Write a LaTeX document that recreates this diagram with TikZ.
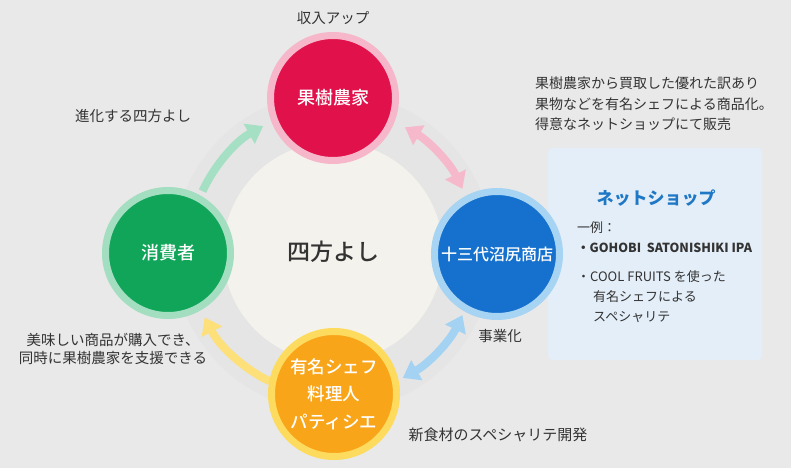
\documentclass[tikz,border=0pt]{standalone}
\usepackage{fontspec}
\setmainfont{Noto Sans CJK JP}
\newfontfamily\medfont{Noto Sans CJK JP Medium}
\usetikzlibrary{arrows.meta}
\definecolor{bg}{HTML}{E9E9E9}
\definecolor{band}{HTML}{E5E5E5}
\definecolor{cream}{HTML}{F4F2EC}
\definecolor{txt}{HTML}{333333}
\definecolor{cred}{HTML}{E1124B}
\definecolor{rpink}{HTML}{F6B7CA}
\definecolor{cblue}{HTML}{1571CD}
\definecolor{rblue}{HTML}{A8D4F4}
\definecolor{cgreen}{HTML}{11A55A}
\definecolor{rgreen}{HTML}{A3DEC1}
\definecolor{corange}{HTML}{F9A51A}
\definecolor{ryellow}{HTML}{FDDB5E}
\definecolor{agreen}{HTML}{A6E0C4}
\definecolor{apink}{HTML}{F5B9CB}
\definecolor{ablue}{HTML}{A3D2F3}
\definecolor{ayellow}{HTML}{FDE07A}
\definecolor{boxbg}{HTML}{E4EEF8}
\definecolor{boxtitle}{HTML}{1F78C6}
\begin{document}
\begin{tikzpicture}[x=1pt,y=1pt,
  actor/.style={circle, line width=7pt, minimum size=125pt, inner sep=0pt, text=white, align=center},
  lbl/.style={text=txt, inner sep=0pt, font=\fontsize{14.5}{18}\selectfont},
  boxline/.style={text=txt, inner sep=0pt, anchor=west, font=\fontsize{13}{16}\selectfont},
  flow/.style={line width=8pt, -{Triangle[width=22pt,length=16pt]}},
  flow2/.style={line width=8pt, {Triangle[width=22pt,length=16pt]}-{Triangle[width=22pt,length=16pt]}}
]
\useasboundingbox (0,0) rectangle (791,468);
\fill[bg] (0,0) rectangle (791,468);
\coordinate (ctr) at (333,216);
\fill[band] (ctr) circle[radius=160];
\fill[cream] (ctr) circle[radius=110];
\node[text=txt, font=\fontsize{23}{26}\selectfont\medfont] (core) at (ctr) {四方よし};

% box (behind the circles)
\fill[boxbg, rounded corners=4pt] (548,108) rectangle (762,320);
\node[text=boxtitle, inner sep=0pt, font=\fontsize{17}{20}\selectfont\bfseries] (bt) at (656,270) {ネットショップ};
\node[boxline] (b1t) at (577,240) {一例：};
\node[boxline, font=\fontsize{12.5}{16}\selectfont\bfseries] (b2t) at (577,220) {・GOHOBI\hspace{0.45em}SATONISHIKI IPA};
\node[boxline] (b3t) at (577,191) {・COOL FRUITS を使った};
\node[boxline] (b4t) at (593,171) {有名シェフによる};
\node[boxline] (b5t) at (593,151) {スペシャリテ};

% arrows
\path (ctr) ++(155:144) coordinate (g1);
\path (ctr) ++(60:144) coordinate (p1);
\path (ctr) ++(-26:144) coordinate (b1);
\path (ctr) ++(-116:144) coordinate (y1);
\draw[flow, agreen] (g1) arc[start angle=155, end angle=119, radius=144];
\draw[flow2, apink] (p1) arc[start angle=60, end angle=26, radius=144];
\draw[flow2, ablue] (b1) arc[start angle=-26, end angle=-61, radius=144];
\draw[flow, ayellow] (y1) arc[start angle=-116, end angle=-153, radius=144];

% circles
\node[actor, fill=cred, draw=rpink, font=\fontsize{18}{20}\selectfont\medfont] (farm) at (333,370) {果樹農家};
\node[actor, fill=cblue, draw=rblue, font=\fontsize{16}{20}\selectfont\medfont] (shop) at (497,214) {十三代沼尻商店};
\node[actor, fill=cgreen, draw=rgreen, font=\fontsize{18}{20}\selectfont\medfont] (cons) at (168,215) {消費者};
\node[actor, fill=corange, draw=ryellow, font=\fontsize{17.5}{27.5}\selectfont\medfont] (chef) at (334,74) {有名シェフ\\料理人\\パティシエ};

% labels
\node[lbl] (l1) at (333,450) {収入アップ};
\node[lbl] (l2) at (133,352) {進化する四方よし};
\node[lbl, align=center] (l3) at (113,119) {美味しい商品が購入でき、\\同時に果樹農家を支援できる};
\node[lbl] (l4) at (500,132) {事業化};
\node[lbl, font=\fontsize{15}{18}\selectfont] (l5) at (498,33) {新食材のスペシャリテ開発};
\node[lbl, anchor=west, align=left, font=\fontsize{14}{20.5}\selectfont] (l6) at (535,364) {果樹農家から買取した優れた訳あり\\果物などを有名シェフによる商品化。\\得意なネットショップにて販売};
\end{tikzpicture}
\end{document}
